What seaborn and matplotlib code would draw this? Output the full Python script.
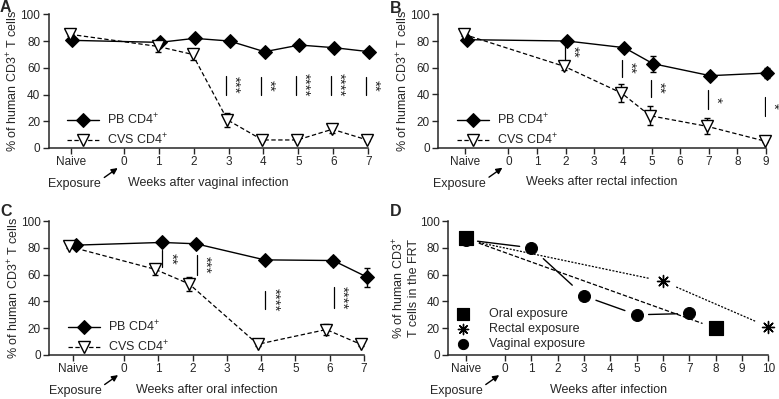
import numpy as np
import matplotlib
matplotlib.use("Agg")
import matplotlib.pyplot as plt
from matplotlib.transforms import ScaledTranslation
import seaborn as sns

sns.set_style("ticks")
plt.rcParams['font.family'] = ['Liberation Sans', 'DejaVu Sans']
plt.rcParams['mathtext.fontset'] = 'custom'
plt.rcParams['mathtext.rm'] = 'Liberation Sans'

NAIVE = -1.5

# Panel A - vaginal infection
a_weeks = [1, 2, 3, 4, 5, 6, 7]
a_pb = [80.5, 79, 82, 80, 72, 77, 75, 72]
a_pb_err = [1.5, 2, 1.5, 1, 1.5, 1, 1, 1]
a_cvs = [85, 76, 70, 21, 6, 6, 14, 6]
a_cvs_err = [1, 4, 4, 5, 1, 1, 3, 1]
a_sig_weeks = [3, 4, 5, 6, 7]
a_sig_stars = ['***', '**', '****', '****', '**']
a_sig_lo = [40, 40, 40, 40, 40]
a_sig_hi = [54, 53, 54, 54, 53]

# Panel B - rectal infection
b_weeks = [2, 4, 5, 7, 9]
b_pb = [81, 80, 75, 63, 54, 56]
b_pb_err = [1, 1, 1.5, 6, 1.5, 4]
b_cvs = [85, 61, 41, 24, 16, 5]
b_cvs_err = [1, 2.5, 7, 7, 6, 1]
b_sig_weeks = [2, 4, 5, 7, 9]
b_sig_stars = ['**', '**', '**', '*', '*']
b_sig_lo = [66, 53, 38, 29, 24]
b_sig_hi = [77, 66, 51, 43, 38]

# Panel C - oral infection
c_weeks = [1, 2, 4, 6, 7]
c_pb = [82, 84, 83, 71, 70.5, 58]
c_pb_err = [1, 1, 1, 1, 3, 7]
c_cvs = [81, 64, 53, 8, 19, 8]
c_cvs_err = [1, 4, 5, 1, 4, 1]
c_sig_weeks = [1, 2, 4, 6]
c_sig_stars = ['**', '***', '****', '****']
c_sig_lo = [66, 60, 34, 35]
c_sig_hi = [78, 75, 48, 51]

# Panel D - CD3+ T cells in the FRT
oral_weeks = [8]
oral_vals = [87, 20]
rectal_weeks = [6, 10]
rectal_vals = [86, 55, 21]
vaginal_weeks = [1, 3, 5, 7]
vaginal_vals = [86, 80, 44, 30, 31]

YLAB = '% of human CD3$^{+}$ T cells'
FS = 9
TFS = 8.5

fig = plt.figure(figsize=(7.79, 3.99), dpi=100)
axA = fig.add_axes([0.0623, 0.6291, 0.4105, 0.3351])
axB = fig.add_axes([0.5626, 0.6298, 0.4207, 0.3343])
axC = fig.add_axes([0.0633, 0.1103, 0.4040, 0.3358])
axD = fig.add_axes([0.5755, 0.1103, 0.4108, 0.3358])


def style_axes(ax, ticks, xlim, xlabel, ylabel):
    ax.set_xlim(*xlim)
    ax.set_ylim(0, 100)
    ax.set_yticks(range(0, 101, 20))
    ax.set_xticks([NAIVE] + list(ticks))
    ax.set_xticklabels(['Naive'] + [str(t) for t in ticks])
    ax.tick_params(labelsize=TFS, length=4, width=1, pad=2)
    for s in ['left', 'bottom']:
        ax.spines[s].set_linewidth(1.1)
    sns.despine(ax=ax)
    ax.set_xlabel(xlabel, fontsize=FS, labelpad=6)
    ax.set_ylabel(ylabel, fontsize=FS, labelpad=0)
    # arrow tip sits just left of the "0" tick label
    tip = ax.get_xaxis_transform() + ScaledTranslation(-0.06, 0, fig.dpi_scale_trans)
    ax.annotate('Exposure', xy=(0, -0.15), xycoords=tip,
                xytext=(-31, -11.5), textcoords='offset points',
                ha='center', va='center', fontsize=FS,
                arrowprops=dict(arrowstyle='-|>', color='k', lw=1, relpos=(1.0, 0.85),
                                mutation_scale=9, shrinkA=0, shrinkB=0),
                annotation_clip=False)


def cd4_panel(ax, weeks, pb, pb_err, cvs, cvs_err, sig_w, stars, lo, hi,
              sig_dx, dodge, xlim, xlabel):
    x = np.array([NAIVE] + list(weeks), dtype=float)
    ax.errorbar(x + dodge, pb, yerr=pb_err, fmt='none', ecolor='k',
                elinewidth=1, capsize=2.5, capthick=1, clip_on=False)
    ax.errorbar(x - dodge, cvs, yerr=cvs_err, fmt='none', ecolor='k',
                elinewidth=1, capsize=2.5, capthick=1, clip_on=False)
    sns.lineplot(x=x + dodge, y=pb, ax=ax, color='k', lw=1, marker='D',
                 markersize=7.5, markeredgecolor='k', markerfacecolor='k',
                 clip_on=False, label='PB CD4$^{+}$')
    sns.lineplot(x=x - dodge, y=cvs, ax=ax, color='k', lw=0.9, linestyle=(0, (3.5, 2)),
                 marker='v', markersize=9, markeredgecolor='k', markeredgewidth=1,
                 markerfacecolor='white', clip_on=False, label='CVS CD4$^{+}$')
    for w, st, l, h in zip(sig_w, stars, lo, hi):
        ax.plot([w + sig_dx, w + sig_dx], [l, h], color='k', lw=0.9)
        ax.text(w + sig_dx + 0.04, (l + h) / 2, st, rotation=-90, ha='left',
                va='center', fontsize=11)
    ax.legend(loc='lower left', bbox_to_anchor=(0.03, -0.06), frameon=False,
              fontsize=FS, handlelength=2.6, handletextpad=0.6, labelspacing=0.35,
              borderpad=0.2)
    full = [0] + list(range(1, int(max(weeks)) + 1))
    style_axes(ax, full, xlim, xlabel, YLAB)


cd4_panel(axA, a_weeks, a_pb, a_pb_err, a_cvs, a_cvs_err, a_sig_weeks, a_sig_stars,
          a_sig_lo, a_sig_hi, -0.07, 0.03, (-2.15, 7), 'Weeks after vaginal infection')
cd4_panel(axB, b_weeks, b_pb, b_pb_err, b_cvs, b_cvs_err, b_sig_weeks, b_sig_stars,
          b_sig_lo, b_sig_hi, -0.03, 0.05, (-2.45, 9), 'Weeks after rectal infection')
cd4_panel(axC, c_weeks, c_pb, c_pb_err, c_cvs, c_cvs_err, c_sig_weeks, c_sig_stars,
          c_sig_lo, c_sig_hi, 0.12, 0.1, (-2.18, 7), 'Weeks after oral infection')


def gapped_line(ax, xs, ys, gap, **kw):
    # Prism-style line that stops short of each marker
    for i in range(len(xs) - 1):
        x0, x1, y0, y1 = xs[i], xs[i + 1], ys[i], ys[i + 1]
        t = gap / (x1 - x0)
        ax.plot([x0 + t * (x1 - x0), x1 - t * (x1 - x0)],
                [y0 + t * (y1 - y0), y1 - t * (y1 - y0)], color='k', **kw)


xo = [NAIVE] + oral_weeks
xr = [NAIVE] + rectal_weeks
xv = [NAIVE] + vaginal_weeks
gapped_line(axD, xo, oral_vals, 0.5, lw=0.9, linestyle=(0, (3.5, 1.6)))
gapped_line(axD, xr, rectal_vals, 0.5, lw=0.9, linestyle=(0, (1.6, 1.2)))
gapped_line(axD, xv, vaginal_vals, 0.45, lw=1)

sns.scatterplot(x=xv, y=vaginal_vals, ax=axD, color='k', marker='o', s=75,
                edgecolor='k', clip_on=False, zorder=3, label='Vaginal exposure')
sns.scatterplot(x=xr[1:], y=rectal_vals[1:], ax=axD, color='k', marker=(8, 2, 0), s=75,
                linewidth=1, clip_on=False, zorder=3, label='Rectal exposure')
sns.scatterplot(x=xo, y=oral_vals, ax=axD, color='k', marker='s', s=110,
                edgecolor='k', clip_on=False, zorder=4, label='Oral exposure')
h, l = axD.get_legend_handles_labels()
order = [l.index('Oral exposure'), l.index('Rectal exposure'), l.index('Vaginal exposure')]
axD.legend([h[i] for i in order], [l[i] for i in order], loc='lower left',
           bbox_to_anchor=(-0.02, -0.03), frameon=False, fontsize=FS,
           handletextpad=1.1, labelspacing=0.25, borderpad=0.2, markerscale=0.85)
style_axes(axD, list(range(0, 11)), (-2.16, 10), 'Weeks after infection',
           '% of human CD3$^{+}$\nT cells in the FRT')

for x, y, letter in [(0.0, 0.982, 'A'), (0.501, 0.979, 'B'),
                     (0.0, 0.469, 'C'), (0.501, 0.469, 'D')]:
    fig.text(x, y, letter, fontsize=11.5, fontweight='bold', va='center', ha='left')

fig.savefig('out.png', dpi=100)
